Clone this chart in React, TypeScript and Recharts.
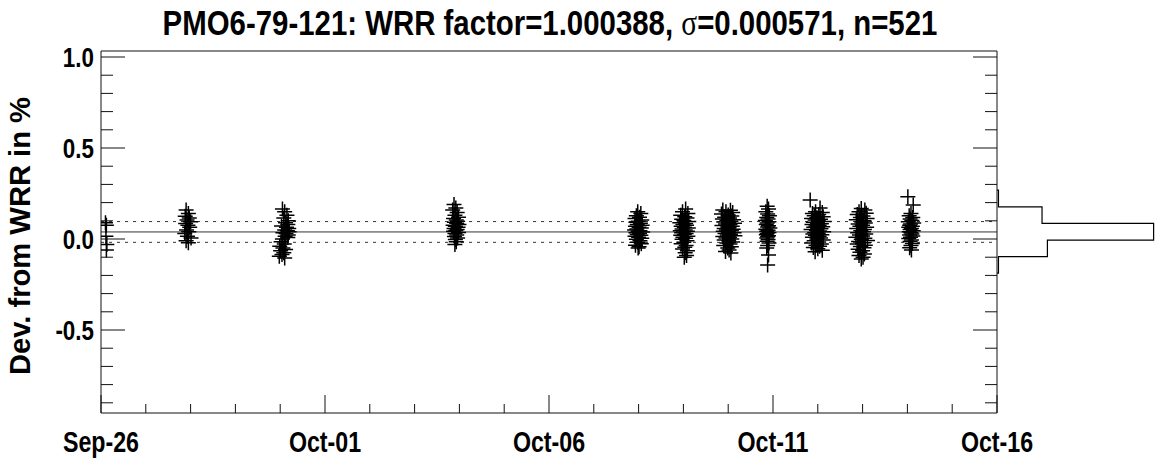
import React from 'react';
import { ScatterChart, Scatter, XAxis, YAxis, ReferenceLine } from 'recharts';

const FONT = "'Liberation Sans', Arial, sans-serif";
const NARROW = 0.8;

// ---------- data ----------
const TITLE_INSTRUMENT = 'PMO6-79-121';
const WRR_FACTOR = 1.000388;
const SIGMA = 0.000571;
const N_POINTS = 521;

const dayTicks = [0, 1, 2, 3, 4, 5, 6, 7, 8, 9, 10, 11, 12, 13, 14, 15, 16, 17, 18, 19, 20];
const dayLabels: Record<number, string> = { 0: 'Sep-26', 5: 'Oct-01', 10: 'Oct-06', 15: 'Oct-11', 20: 'Oct-16' };
const devTicks = [-0.9, -0.8, -0.7, -0.6, -0.5, -0.4, -0.3, -0.2, -0.1, 0, 0.1, 0.2, 0.3, 0.4, 0.5, 0.6, 0.7, 0.8, 0.9, 1.0];
const devLabels: Record<string, string> = { '-0.5': '-0.5', '0': '0.0', '0.5': '0.5', '1': '1.0' };
const dayDomain = [0, 20];
const devDomain = [-0.956, 1.033];

// [days since Sep-26, deviation in %]
const sep26: [number, number][] = [[0.10, 0.090], [0.12, 0.075], [0.11, 0.015], [0.13, -0.030], [0.12, -0.060]];
const sep27: [number, number][] = [
  [1.90, 0.160], [1.95, 0.140], [1.88, 0.125], [1.97, 0.115], [1.92, 0.105], [2.00, 0.095], [1.89, 0.085], [1.94, 0.075],
  [1.98, 0.065], [1.91, 0.050], [1.96, 0.040], [1.87, 0.030], [1.93, 0.015], [2.01, 0.005], [1.90, -0.010], [1.95, -0.020],
];
const sep30: [number, number][] = [
  [4.05, 0.165], [4.10, 0.150], [4.15, 0.130], [4.08, 0.115], [4.18, 0.100], [4.12, 0.090], [4.17, 0.080], [4.03, 0.072],
  [4.14, 0.065], [4.19, 0.058], [4.10, 0.050], [4.16, 0.045], [4.20, 0.040], [4.06, 0.035], [4.13, 0.030], [4.18, 0.022],
  [4.11, 0.015], [4.17, 0.008], [4.05, 0.000], [4.02, -0.015], [4.09, -0.028], [3.99, -0.040], [4.06, -0.050], [4.12, -0.058],
  [4.01, -0.065], [4.08, -0.075], [4.04, -0.085], [3.98, -0.095], [4.10, -0.104],
];
const oct03: [number, number][] = [
  [7.88, 0.190], [7.92, 0.170], [7.85, 0.160], [7.95, 0.145], [7.90, 0.130], [7.98, 0.120], [7.87, 0.112], [7.93, 0.105],
  [7.96, 0.098], [7.89, 0.092], [7.94, 0.086], [7.99, 0.080], [7.86, 0.075], [7.91, 0.070], [7.97, 0.064], [7.88, 0.058],
  [7.95, 0.052], [7.92, 0.047], [7.87, 0.042], [7.98, 0.036], [7.90, 0.030], [7.94, 0.022], [7.89, 0.014], [7.96, 0.006],
  [7.91, -0.003], [7.93, -0.015], [7.90, -0.030],
];
const oct08: [number, number][] = [
  [11.98, 0.150], [12.05, 0.140], [11.95, 0.128], [12.02, 0.120], [11.92, 0.112], [12.07, 0.105], [11.99, 0.098], [11.94, 0.092],
  [12.04, 0.086], [11.97, 0.080], [12.08, 0.075], [11.93, 0.070], [12.01, 0.065], [12.06, 0.060], [11.96, 0.055], [11.91, 0.050],
  [12.03, 0.046], [11.99, 0.042], [12.09, 0.038], [11.94, 0.034], [12.02, 0.030], [11.97, 0.025], [12.05, 0.020], [11.92, 0.015],
  [12.00, 0.010], [12.07, 0.004], [11.95, -0.002], [12.03, -0.010], [11.98, -0.018], [12.06, -0.026], [11.93, -0.034],
  [12.01, -0.042], [11.99, -0.050],
];
const oct09: [number, number][] = [
  [13.05, 0.165], [12.98, 0.150], [13.10, 0.140], [12.94, 0.130], [13.03, 0.122], [13.08, 0.115], [12.96, 0.108], [13.01, 0.102],
  [13.12, 0.096], [12.92, 0.090], [13.05, 0.085], [12.99, 0.080], [13.07, 0.075], [12.95, 0.070], [13.02, 0.065], [13.11, 0.060],
  [12.97, 0.055], [13.04, 0.050], [12.93, 0.046], [13.09, 0.042], [13.00, 0.038], [12.96, 0.034], [13.06, 0.030], [13.02, 0.025],
  [12.94, 0.020], [13.10, 0.015], [12.99, 0.010], [13.05, 0.004], [12.97, -0.002], [13.08, -0.010], [13.01, -0.018],
  [12.95, -0.026], [13.06, -0.035], [13.03, -0.045], [12.98, -0.055], [13.09, -0.065], [13.04, -0.075], [13.07, -0.090],
  [13.02, -0.100],
];
const oct10: [number, number][] = [
  [13.88, 0.160], [14.05, 0.158], [13.95, 0.150], [14.10, 0.145], [13.85, 0.138], [14.00, 0.132], [14.08, 0.126], [13.92, 0.120],
  [14.03, 0.115], [13.87, 0.110], [14.12, 0.106], [13.97, 0.102], [14.06, 0.098], [13.90, 0.094], [14.01, 0.090], [14.14, 0.086],
  [13.94, 0.082], [14.04, 0.078], [13.86, 0.074], [14.09, 0.070], [13.99, 0.066], [14.02, 0.062], [13.91, 0.058], [14.11, 0.054],
  [13.96, 0.050], [14.07, 0.046], [13.89, 0.042], [14.00, 0.038], [14.13, 0.034], [13.93, 0.030], [14.05, 0.026], [13.98, 0.022],
  [14.15, 0.018], [13.88, 0.014], [14.03, 0.010], [13.95, 0.005], [14.08, 0.000], [13.91, -0.005], [14.01, -0.010],
  [14.10, -0.016], [13.97, -0.022], [14.04, -0.028], [13.90, -0.035], [14.07, -0.042], [13.99, -0.050], [14.02, -0.060],
  [13.94, -0.068], [14.06, -0.077],
];
const oct11: [number, number][] = [
  [14.87, 0.180], [14.90, 0.165], [14.84, 0.150], [14.88, 0.138], [14.92, 0.128], [14.86, 0.118], [14.89, 0.110], [14.83, 0.102],
  [14.91, 0.095], [14.87, 0.088], [14.85, 0.080], [14.90, 0.073], [14.88, 0.066], [14.93, 0.060], [14.84, 0.054], [14.89, 0.048],
  [14.86, 0.042], [14.91, 0.036], [14.87, 0.030], [14.85, 0.024], [14.90, 0.018], [14.88, 0.012], [14.86, 0.005], [14.89, -0.003],
  [14.87, -0.012], [14.91, -0.022], [14.88, -0.035], [14.86, -0.050], [14.90, -0.088], [14.88, -0.143],
];
const oct12: [number, number][] = [
  [15.83, 0.214], [16.05, 0.170], [15.95, 0.150], [16.10, 0.145], [15.88, 0.140], [16.02, 0.134], [15.92, 0.128], [16.12, 0.122],
  [15.98, 0.117], [15.86, 0.112], [16.06, 0.108], [15.94, 0.104], [16.01, 0.100], [16.14, 0.096], [15.90, 0.092], [15.99, 0.088],
  [16.08, 0.084], [15.87, 0.080], [16.03, 0.076], [15.96, 0.072], [16.11, 0.068], [15.91, 0.064], [16.00, 0.060], [16.07, 0.056],
  [15.85, 0.052], [15.97, 0.048], [16.04, 0.044], [16.13, 0.040], [15.93, 0.036], [16.01, 0.032], [15.89, 0.028], [16.09, 0.024],
  [15.95, 0.020], [16.03, 0.015], [15.88, 0.010], [16.06, 0.005], [15.98, 0.000], [16.12, -0.005], [15.92, -0.010],
  [16.02, -0.016], [15.86, -0.022], [16.08, -0.028], [15.96, -0.034], [16.04, -0.040], [15.90, -0.047], [16.00, -0.054],
  [16.10, -0.062], [15.94, -0.070],
];
const oct13: [number, number][] = [
  [16.97, 0.168], [17.05, 0.160], [16.92, 0.150], [17.08, 0.142], [16.88, 0.134], [17.01, 0.126], [16.95, 0.118], [17.10, 0.112],
  [16.86, 0.106], [17.03, 0.100], [16.98, 0.094], [17.06, 0.088], [16.90, 0.082], [17.00, 0.076], [16.94, 0.070], [17.09, 0.064],
  [16.87, 0.058], [17.04, 0.052], [16.96, 0.046], [17.02, 0.040], [16.89, 0.034], [17.07, 0.028], [16.93, 0.022], [17.00, 0.016],
  [16.85, 0.010], [17.05, 0.004], [16.97, -0.002], [17.11, -0.008], [16.91, -0.014], [17.02, -0.020], [16.88, -0.027],
  [17.06, -0.034], [16.95, -0.041], [17.03, -0.048], [16.90, -0.056], [17.00, -0.064], [16.94, -0.073], [17.04, -0.082],
  [16.92, -0.090], [17.01, -0.100], [16.97, -0.110],
];
const oct14: [number, number][] = [
  [18.01, 0.232], [18.13, 0.187], [18.08, 0.140], [18.04, 0.128], [18.12, 0.118], [18.06, 0.110], [18.10, 0.102], [18.02, 0.095],
  [18.14, 0.088], [18.07, 0.082], [18.05, 0.076], [18.11, 0.070], [18.03, 0.064], [18.09, 0.058], [18.06, 0.052], [18.13, 0.046],
  [18.04, 0.040], [18.08, 0.034], [18.10, 0.028], [18.05, 0.022], [18.12, 0.016], [18.07, 0.010], [18.03, 0.003], [18.09, -0.005],
  [18.06, -0.014], [18.11, -0.024], [18.08, -0.036], [18.05, -0.048], [18.09, -0.060],
];

// histogram of deviations (bin edges top -> bottom, counts per bin)
const histEdges = [0.269, 0.177, 0.086, -0.006, -0.097, -0.188];
const histCounts = [3, 92, 320, 103, 3];
const histDomain = [0, 331];

// ---------- derived ----------
const meanDev = (WRR_FACTOR - 1) * 100;
const sigmaDev = SIGMA * 100;
const points = [sep26, sep27, sep30, oct03, oct08, oct09, oct10, oct11, oct12, oct13, oct14]
  .flat()
  .map(([t, v]) => ({ t, v }));

const histOutline: { c: number; e: number }[] = [];
histOutline.push({ c: 0, e: histEdges[0] });
histCounts.forEach((c, i) => {
  histOutline.push({ c, e: histEdges[i] });
  histOutline.push({ c, e: histEdges[i + 1] });
});
histOutline.push({ c: 0, e: histEdges[histEdges.length - 1] });

// ---------- layout ----------
const W = 1159;
const PLOT_LEFT = 101;
const PLOT_RIGHT = 997;
const PLOT_TOP = 51;
const PLOT_BOTTOM = 413;
const H = 459;
const STROKE = '#111';

const labelKey = (v: number) => String(Math.round(v * 10) / 10);

const NarrowText = ({ x, y, anchor, size, scale, children }: any) => (
  <text
    transform={`translate(${x},${y}) scale(${scale ?? NARROW},1)`}
    textAnchor={anchor}
    fontFamily={FONT}
    fontWeight="bold"
    fontSize={size}
    fill="#000"
  >
    {children}
  </text>
);

const BottomTick = (props: any) => {
  const { x, y, payload } = props;
  const v = payload.value;
  const major = dayLabels[v] !== undefined;
  return (
    <g>
      <line x1={x} x2={x} y1={y} y2={y - (major ? 18 : 9)} stroke={STROKE} strokeWidth={1} />
      {major && (
        <NarrowText x={x} y={y + 39} anchor="middle" size={29}>
          {dayLabels[v]}
        </NarrowText>
      )}
    </g>
  );
};

const TopTick = (props: any) => {
  const { x, y, payload } = props;
  const major = dayLabels[payload.value] !== undefined;
  return <line x1={x} x2={x} y1={y} y2={y + (major ? 18 : 9)} stroke={STROKE} strokeWidth={1} />;
};

const LeftTick = (props: any) => {
  const { x, y, payload } = props;
  const lbl = devLabels[labelKey(payload.value)];
  return (
    <g>
      <line x1={x} x2={x + (lbl ? 24 : 12)} y1={y} y2={y} stroke={STROKE} strokeWidth={1} />
      {lbl && (
        <NarrowText x={x - 7} y={y + 10} anchor="end" size={28}>
          {lbl}
        </NarrowText>
      )}
    </g>
  );
};

const RightTick = (props: any) => {
  const { x, y, payload } = props;
  const lbl = devLabels[labelKey(payload.value)];
  return <line x1={x} x2={x - (lbl ? 24 : 12)} y1={y} y2={y} stroke={STROKE} strokeWidth={1} />;
};

const PlusMark = (props: any) => {
  const { cx, cy } = props;
  if (cx == null || cy == null) return <g />;
  return <path d={`M${cx - 7.5},${cy}h15M${cx},${cy - 7.5}v15`} stroke="#000" strokeWidth={1.5} fill="none" />;
};

export default function App() {
  return (
    <div style={{ position: 'absolute', left: 0, top: 0, width: W, height: H, background: '#fff' }}>
      <div style={{ position: 'absolute', left: PLOT_RIGHT, top: 0 }}>
        <ScatterChart
          width={W - PLOT_RIGHT}
          height={H}
          margin={{ top: PLOT_TOP, right: 0, bottom: H - PLOT_BOTTOM, left: 0 }}
        >
          <XAxis dataKey="c" type="number" domain={histDomain} hide allowDataOverflow />
          <YAxis dataKey="e" type="number" domain={devDomain} hide allowDataOverflow />
          <Scatter
            data={histOutline}
            line={{ stroke: '#000', strokeWidth: 1.2 }}
            lineType="joint"
            shape={() => <g />}
            isAnimationActive={false}
          />
        </ScatterChart>
      </div>
      <div style={{ position: 'absolute', left: 0, top: 0 }}>
        <ScatterChart
          width={W}
          height={H}
          margin={{ top: PLOT_TOP - 1, right: W - PLOT_RIGHT - 1, bottom: 0, left: 0 }}
        >
          <XAxis
            xAxisId="bottom"
            dataKey="t"
            type="number"
            domain={dayDomain}
            ticks={dayTicks}
            interval={0}
            height={H - PLOT_BOTTOM}
            tickSize={0}
            tickMargin={0}
            tickLine={false}
            axisLine={{ stroke: STROKE }}
            tick={BottomTick}
            allowDataOverflow
          />
          <XAxis
            xAxisId="top"
            orientation="top"
            type="number"
            domain={dayDomain}
            ticks={dayTicks}
            interval={0}
            height={1}
            tickSize={0}
            tickMargin={0}
            tickLine={false}
            axisLine={{ stroke: STROKE }}
            tick={TopTick}
            allowDataOverflow
          />
          <YAxis
            yAxisId="left"
            dataKey="v"
            type="number"
            domain={devDomain}
            ticks={devTicks}
            interval={0}
            width={PLOT_LEFT}
            tickSize={0}
            tickMargin={0}
            tickLine={false}
            axisLine={{ stroke: STROKE }}
            tick={LeftTick}
            allowDataOverflow
          />
          <YAxis
            yAxisId="right"
            orientation="right"
            type="number"
            domain={devDomain}
            ticks={devTicks}
            interval={0}
            width={1}
            tickSize={0}
            tickMargin={0}
            tickLine={false}
            axisLine={{ stroke: STROKE }}
            tick={RightTick}
            allowDataOverflow
          />
          <ReferenceLine xAxisId="bottom" yAxisId="left" y={meanDev} stroke="#333" strokeWidth={1} />
          <ReferenceLine xAxisId="bottom" yAxisId="left" y={meanDev + sigmaDev} stroke="#333" strokeWidth={1} strokeDasharray="3 5" />
          <ReferenceLine xAxisId="bottom" yAxisId="left" y={meanDev - sigmaDev} stroke="#333" strokeWidth={1} strokeDasharray="3 5" />
          <Scatter
            xAxisId="bottom"
            yAxisId="left"
            data={points}
            shape={PlusMark}
            isAnimationActive={false}
          />
        </ScatterChart>
      </div>
      <svg width={W} height={H} style={{ position: 'absolute', left: 0, top: 0, pointerEvents: 'none' }}>
        <NarrowText x={550} y={35} anchor="middle" size={35} scale={0.84}>
          {`${TITLE_INSTRUMENT}: WRR factor=${WRR_FACTOR.toFixed(6)}, `}
          <tspan fontFamily="'Liberation Serif', 'DejaVu Serif', serif" fontWeight="normal">σ</tspan>
          {`=${SIGMA.toFixed(6)}, n=${N_POINTS}`}
        </NarrowText>
        <text
          x={0}
          y={0}
          transform="translate(30,236) rotate(-90)"
          textAnchor="middle"
          textLength={278}
          lengthAdjust="spacingAndGlyphs"
          fontFamily={FONT}
          fontWeight="bold"
          fontSize={29}
          fill="#000"
        >
          Dev. from WRR in %
        </text>
      </svg>
    </div>
  );
}
